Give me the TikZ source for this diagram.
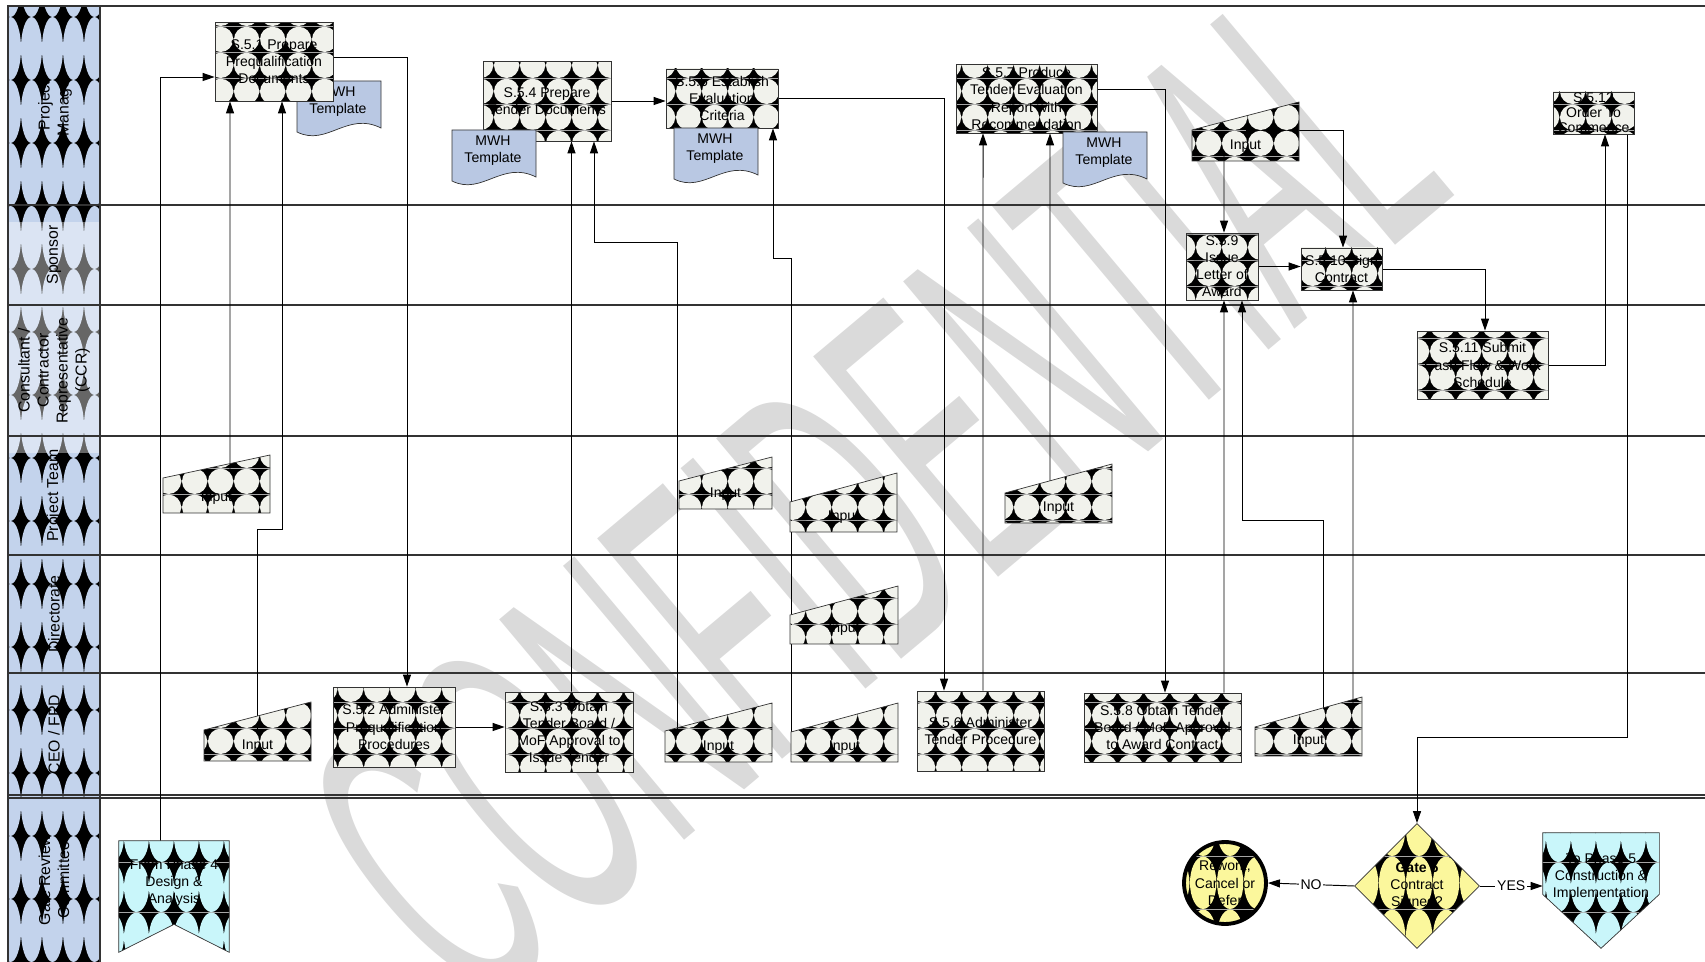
\documentclass[tikz,border=0pt]{standalone}
\usepackage{fontspec}
\setmainfont{Liberation Sans}
\usetikzlibrary{arrows.meta,shapes.geometric,patterns,calc}
\definecolor{cream}{HTML}{F1F2EC}
\definecolor{laneblue}{HTML}{C3D3EC}
\definecolor{gateyellow}{HTML}{FBF79C}
\definecolor{phasecyan}{HTML}{C9F6FA}
\definecolor{docblue}{HTML}{B9C8E3}
\definecolor{wmgray}{HTML}{DADADA}
\definecolor{edgegray}{HTML}{333333}

\pgfdeclarelayer{wmark}
\pgfdeclarelayer{back}
\pgfsetlayers{wmark,back,main}

\newcommand{\bubblepattern}[4]{%
  \pgfdeclarepatterninherentlycolored{#1}{\pgfpointorigin}{\pgfpoint{#2}{#3}}{\pgfpoint{#2}{#3}}{%
    \pgfsetfillcolor{black}%
    \pgfpathrectangle{\pgfpointorigin}{\pgfpoint{#2}{#3}}%
    \pgfusepath{fill}%
    \pgfsetfillcolor{#4}%
    \pgfpathellipse{\pgfpoint{0.5*#2}{0.5*#3}}{\pgfpoint{0.5*#2}{0pt}}{\pgfpoint{0pt}{0.5*#3}}%
    \pgfusepath{fill}}}
\bubblepattern{bubblecream}{14.8pt}{14.8pt}{cream}
\bubblepattern{bubbleblue}{11.95pt}{35.85pt}{laneblue}
\bubblepattern{bubbleyellow}{15.4pt}{30.2pt}{gateyellow}
\bubblepattern{bubblecyan}{14.2pt}{28.5pt}{phasecyan}

\newcommand{\boxfont}{\fontsize{8}{9.7}\selectfont}
\newcommand{\headfont}{\fontsize{9}{10.8}\selectfont}

\newcommand{\inputbox}[6]{%
  \draw[inshape] (#2,#6) -- (#2,#4) -- (#3,#5) -- (#3,#6) -- cycle;
  \node[intext] (#1) at ({(#2+#3)/2},#6-15) {Input};
}
\newcommand{\mwhdoc}[3]{%
  \draw[docshape] (#2,#3) -- ({#2+84},#3) -- ({#2+84},{#3+47})
    .. controls ({#2+50},{#3+30}) and ({#2+30},{#3+66}) .. (#2,{#3+51}) -- cycle;
  \node[doctext] (#1) at ({#2+41},{#3+21}) {MWH\\Template};
}

\begin{document}
\begin{tikzpicture}[x=0.02cm, y=-0.02cm,
  task/.style={draw=edgegray, pattern=bubblecream, inner sep=0pt, align=center, font=\boxfont},
  inshape/.style={draw=edgegray, pattern=bubblecream},
  intext/.style={inner sep=1pt, font=\boxfont},
  docshape/.style={draw=edgegray, fill=docblue},
  doctext/.style={align=center, inner sep=0pt, font=\boxfont},
  phase/.style={draw=edgegray, pattern=bubblecyan},
  phasebox/.style={inner sep=0pt},
  phasetext/.style={align=center, inner sep=0pt, font=\boxfont},
  gate/.style={diamond, aspect=1, draw=edgegray, pattern=bubbleyellow, minimum size=2.5cm, inner sep=0pt, align=center, font=\boxfont},
  endnode/.style={circle, draw=black, line width=2.2pt, pattern=bubbleyellow, minimum size=1.64cm, inner sep=0pt, align=center, font=\boxfont},
  headtxt/.style={rotate=90, align=center, font=\headfont},
  lane/.style={draw=edgegray, line width=0.8pt},
  arr/.style={-{Triangle[length=0.24cm,width=0.16cm]}, draw=black, line width=0.55pt},
  lbl/.style={fill=white, inner sep=1pt, font=\boxfont},
  wmark/.style={text=wmgray, inner sep=0pt, rotate=40, xscale=0.42, font=\fontsize{238}{240}\selectfont},
]
\useasboundingbox (0,0) rectangle (1705,962);

\node[headtxt] (hpm) at (55,105.5) {Project\\Manager};
\node[headtxt] (hsp) at (54,255) {Sponsor};
\node[headtxt] (hccr) at (54,370.5) {Consultant /\\Contractor\\Representative\\(CCR)};
\node[headtxt] (hpt) at (54,495.5) {Project Team};
\node[headtxt] (hdir) at (54,614) {Directorate};
\node[headtxt] (hceo) at (54,734.5) {CEO / FPD};
\node[headtxt] (hgrc) at (54,880) {Gate Review\\Committee};

\mwhdoc{mwh1}{297}{81}
\node[task, minimum width=2.36cm, minimum height=1.58cm] (s51) at (274,61.5) {S.5.1 Prepare\\Prequalification\\Documents};
\node[task, minimum width=2.44cm, minimum height=1.6cm] (s52) at (394,727) {S.5.2 Administer\\Prequalification\\Procedures};
\node[task, minimum width=2.56cm, minimum height=1.6cm] (s53) at (569,732) {S.5.3 Obtain\\Tender Board /\\MoF Approval to\\Issue Tender};
\node[task, minimum width=2.56cm, minimum height=1.6cm] (s54) at (547,101) {S.5.4 Prepare\\Tender Documents};
\mwhdoc{mwh2}{452}{130}
\node[task, minimum width=2.24cm, minimum height=1.18cm] (s55) at (722,98.5) {S.5.5 Establish\\Evaluation\\Criteria};
\mwhdoc{mwh3}{674}{128}
\node[task, minimum width=2.54cm, minimum height=1.6cm] (s56) at (980.5,731) {S.5.6 Administer\\Tender Procedure};
\node[task, minimum width=2.82cm, minimum height=1.38cm] (s57) at (1026.5,98.5) {S.5.7 Produce\\Tender Evaluation\\Report with\\Recommendation};
\mwhdoc{mwh4}{1063}{132}
\node[task, minimum width=3.14cm, minimum height=1.38cm] (s58) at (1162.5,727.5) {S.5.8 Obtain Tender\\Board / MoF Approval\\to Award Contract};
\node[task, minimum width=1.44cm, minimum height=1.34cm] (s59) at (1222,266.5) {S.5.9\\Issue\\Letter of\\Award};
\node[task, minimum width=1.62cm, minimum height=0.84cm] (s510) at (1341.5,269) {S.5.10 Sign\\Contract};
\node[task, minimum width=2.62cm, minimum height=1.36cm] (s511) at (1482.5,365) {S.5.11 Submit\\Cash Flow \& Work\\Schedule};
\node[task, minimum width=1.62cm, minimum height=0.84cm, font=\fontsize{8}{8.6}\selectfont] (s512) at (1593.5,113) {S.5.12\\Order To\\Commence};

\inputbox{pt1}{163}{270}{478}{455}{513}
\inputbox{ceo1}{204}{311}{730}{702}{761}
\inputbox{pt2}{679}{772}{481}{457}{509}
\inputbox{pt3}{790}{897}{502}{473}{532}
\inputbox{dir1}{790}{898}{615}{586}{644}
\inputbox{ceo2}{665}{772}{731}{703}{762}
\inputbox{ceo3}{791}{898}{732}{703}{762}
\inputbox{pt4}{1005}{1112}{493}{464}{523}
\inputbox{pm1}{1192}{1299}{130}{102}{161}
\inputbox{ceo5}{1255}{1362}{727}{697}{756}

\node[phasebox, minimum width=2.2cm, minimum height=2.22cm] (fp4) at (174,896.5) {};
\draw[phase] (fp4.north west) -- (fp4.north east) -- (fp4.south east) -- ([yshift=0.56cm]fp4.south) -- (fp4.south west) -- cycle;
\node[phasetext] (fp4txt) at (174,883) {From Phase 4\\Design \&\\Analysis};
\node[phasebox, minimum width=2.32cm, minimum height=2.3cm] (tp5) at (1601,890.5) {};
\draw[phase] (tp5.north west) -- (tp5.north east) -- ([yshift=1.08cm]tp5.south east) -- (tp5.south) -- ([yshift=1.08cm]tp5.south west) -- cycle;
\node[phasetext] (tp5txt) at (1601,877) {To Phase 5\\Construction \&\\Implementation};

\node[gate] (g5) at (1417,886) {\textbf{Gate 5}\\Contract\\Signed?};
\node[endnode] (rw) at (1225,883) {Rework,\\Cancel or\\Defer};

\begin{pgfonlayer}{back}
\fill[pattern=bubbleblue] (8,6) rectangle (100,962);
\fill[white, opacity=0.4] (8,222) rectangle (116,453);
\draw[lane] (8,962) -- (8,6) -- (1705,6);
\draw[lane] (100,6) -- (100,962);
\foreach \ly in {205,305,436,555,673,795,798}
  \draw[lane] (8,\ly) -- (1705,\ly);

\draw[arr] ([xshift=-0.28cm]fp4.north) |- ([yshift=-0.31cm]s51.west);
\draw[arr] ([xshift=0.27cm]pt1.center) -- ([xshift=-0.88cm]s51.south);
\draw[arr] (ceo1.center) -- ++(0,-217) -| ([xshift=0.16cm]s51.south);
\draw[arr] ([yshift=0.09cm]s51.east) -| ([xshift=0.26cm]s52.north);
\draw[arr] (s52.east) -- (s52.east -| s53.west);
\draw[arr] ([xshift=0.05cm]s53.north) -- ([xshift=0.49cm]s54.south);
\draw[arr] ([xshift=-0.83cm]ceo2.center) -- ++(0,-505) -| ([xshift=0.94cm]s54.south);
\draw[arr] (s54.east) -- (s54.east -| s55.west);
\draw[arr] ([xshift=-1.07cm]ceo3.center) -- ++(0,-489) -| ([xshift=1.02cm]s55.south);
\draw[arr] (s55.east) -| ([xshift=-0.73cm]s56.north);
\draw[arr] ([xshift=0.05cm]s56.north) -- ([xshift=-0.87cm]s57.south);
\draw[arr] ([xshift=-0.17cm]pt4.center) -- ([xshift=0.47cm]s57.south);
\draw[arr] ([yshift=0.19cm]s57.east) -| ([xshift=0.05cm]s58.north);
\draw[arr] ([xshift=1.23cm]s58.north) -- ([xshift=0.04cm]s59.south);
\draw[arr] ([xshift=0.29cm]ceo5.center) -- ++(0,-221) -| ([xshift=0.4cm]s59.south);
\draw[arr] ([xshift=-0.43cm]pm1.center) -- ([xshift=0.04cm]s59.north);
\draw[arr] ([yshift=0.32cm]pm1.center) -| ([xshift=0.03cm]s510.north);
\draw[arr] (s59.east) -- (s59.east -| s510.west);
\draw[arr] ([xshift=0.89cm]ceo5.center) -- ([xshift=0.23cm]s510.south);
\draw[arr] (s510.east) -| ([xshift=0.05cm]s511.north);
\draw[arr] (s511.east) -| ([xshift=0.23cm]s512.south);
\draw[arr] ([xshift=0.67cm]s512.south) -- ++(0,603) -| (g5.north);
\draw[arr] (g5.west) -- node[lbl] {NO} (rw.east);
\draw[arr] (g5.east) -- node[lbl] {YES} (g5.east -| tp5.west);
\end{pgfonlayer}

\begin{pgfonlayer}{wmark}
\node[wmark] (conf) at (873,495) {CONFIDENTIAL};
\end{pgfonlayer}
\end{tikzpicture}
\end{document}
